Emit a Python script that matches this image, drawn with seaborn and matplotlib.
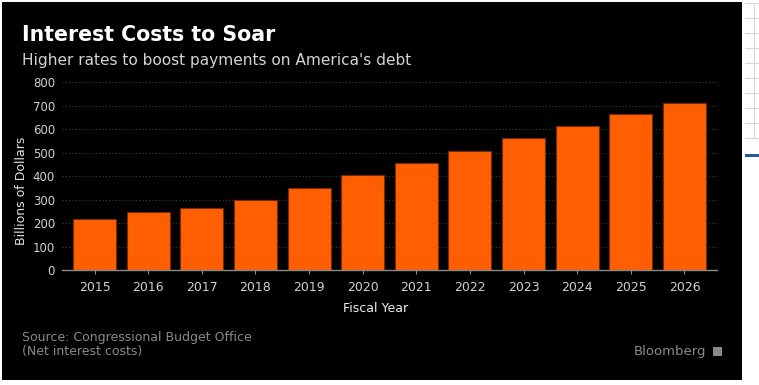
import matplotlib
matplotlib.use("Agg")
import matplotlib.pyplot as plt
from matplotlib.patches import Rectangle
import seaborn as sns
import pandas as pd

# net interest costs, billions of dollars
years = ["2015", "2016", "2017", "2018", "2019", "2020",
         "2021", "2022", "2023", "2024", "2025", "2026"]
costs = [220, 246, 267, 300, 349, 405, 457, 507, 563, 614, 664, 712]
yticks = [0, 100, 200, 300, 400, 500, 600, 700, 800]

df = pd.DataFrame({"year": years, "cost": costs})

sns.set_style("dark")
plt.rcParams['font.family'] = ['DejaVu Sans']

W, H = 759, 385
fig = plt.figure(figsize=(W / 100, H / 100), dpi=100, facecolor="white")

# black card, with the white strip on the right like the screenshot
fig.add_artist(Rectangle((2 / W, 1 - 380 / H), 740 / W, 378 / H,
                         transform=fig.transFigure, facecolor="black",
                         edgecolor="none", zorder=-10))
# spreadsheet leftovers in the right strip
for yy in [3, 18, 33, 48, 63, 78, 93, 108, 123, 138]:
    fig.add_artist(plt.Line2D([745 / W, 1], [1 - yy / H] * 2,
                              transform=fig.transFigure, color="#d8d8d8", lw=0.8))
fig.add_artist(plt.Line2D([754 / W] * 2, [1 - 3 / H, 1 - 138 / H],
                          transform=fig.transFigure, color="#d8d8d8", lw=0.8))
fig.add_artist(Rectangle((745 / W, 1 - 157 / H), 14 / W, 3 / H,
                         transform=fig.transFigure, facecolor="#2b5797",
                         edgecolor="none"))

ax = fig.add_axes([62 / W, 1 - 270.3 / H, 655 / W, 188 / H])
ax.set_zorder(5)
ax.set_facecolor("black")

sns.barplot(data=df, x="year", y="cost", ax=ax, color="#ff5f00",
            saturation=1, width=0.8, edgecolor="#7a2a00", linewidth=0.8,
            zorder=3)

ax.set_xlim(-0.606, len(years) - 1 + 0.606)
ax.set_ylim(0, 800)
ax.set_yticks(yticks)
ax.grid(axis="y", color="#3e3e3e", linestyle=(0, (1, 2)), linewidth=0.8, zorder=0)
ax.grid(axis="x", visible=False)
ax.set_axisbelow(True)

for s in ["top", "right", "left"]:
    ax.spines[s].set_visible(False)
ax.spines["bottom"].set_color("#8a8a8a")
ax.spines["bottom"].set_linewidth(1)
ax.spines["bottom"].set_zorder(4)

ax.tick_params(axis="x", colors="#8a8a8a", length=3, width=0.8,
               labelcolor="#d0d0d0", labelsize=9, pad=5, direction="out",
               bottom=True)
ax.tick_params(axis="y", length=0, labelcolor="#d0d0d0", labelsize=8.5, pad=5)

ax.set_xlabel("Fiscal Year", color="#f0f0f0", fontsize=9)
ax.xaxis.set_label_coords((376 - 62) / 655, -(302 - 270.3) / 188)
ax.set_ylabel("Billions of Dollars", color="#e0e0e0", fontsize=9)
ax.yaxis.set_label_coords(-(62 - 28) / 655, (270.3 - 191) / 188)

fig.text(22 / W, 1 - 35 / H, "Interest Costs to Soar", color="white",
         fontsize=14.8, fontweight="bold", va="center", ha="left")
fig.text(22 / W, 1 - 60 / H, "Higher rates to boost payments on America's debt",
         color="#d4d4d4", fontsize=11.1, va="center", ha="left")
fig.text(22 / W, 1 - 338 / H, "Source: Congressional Budget Office",
         color="#8a8a8a", fontsize=9, va="center", ha="left")
fig.text(22 / W, 1 - 352 / H, "(Net interest costs)",
         color="#8a8a8a", fontsize=9, va="center", ha="left")
fig.text(706 / W, 1 - 351 / H, "Bloomberg", color="#8a8a8a",
         fontsize=9.5, va="center", ha="right")
fig.add_artist(Rectangle((713 / W, 1 - 356 / H), 9 / W, 9 / H,
                         transform=fig.transFigure, facecolor="#8a8a8a",
                         edgecolor="none"))

fig.savefig("out.png", dpi=100, facecolor="white")
